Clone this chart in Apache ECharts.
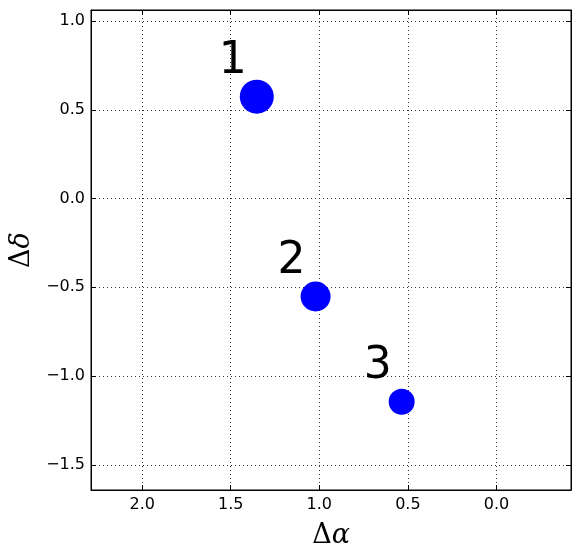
<!DOCTYPE html>
<html>
<head>
<meta charset="utf-8">
<script src="https://cdn.jsdelivr.net/npm/echarts@6/dist/echarts.min.js"></script>
<style>
html, body { margin: 0; padding: 0; background: #fff; }
#main { width: 580px; height: 558px; }
</style>
</head>
<body>
<div id="main"></div>
<script>
// point labels, offsets and marker sizes
var names = ['1', '2', '3'];
var dAlpha = [1.353, 1.021, 0.535];
var dDelta = [0.574, -0.552, -1.145];
var sizes = [34, 30, 26];

var xRange = [-0.421, 2.289];
var yRange = [-1.642, 1.062];

var points = [];
for (var i = 0; i < names.length; i++) {
	points.push({name: names[i], value: [dAlpha[i], dDelta[i]], symbolSize: sizes[i]});
}

function tickFmt(v) {
	var k = v / 0.5;
	if (Math.abs(k - Math.round(k)) > 1e-6) return '';
	return v.toFixed(1).replace('-', '\u2212');
}

var myChart = echarts.init(document.getElementById('main'));
var tickStyle = {inside: true, length: 5, lineStyle: {color: '#000', width: 1}};
var gridLine = {show: true, lineStyle: {color: '#333', width: 1, type: [1, 3]}};

option = {
	animation: false,
	backgroundColor: '#fff',
	textStyle: {fontFamily: 'DejaVu Sans'},
	grid: {
		left: 91,
		top: 10,
		width: 480,
		height: 480,
		containLabel: false,
		outerBoundsMode: 'none',
		show: true,
		borderColor: '#000',
		borderWidth: 1
	},
	xAxis: [
	{
		type: 'value',
		min: xRange[0],
		max: xRange[1],
		inverse: true,
		splitNumber: 5,
		axisLine: {show: true, onZero: false, lineStyle: {color: '#000'}},
		axisTick: tickStyle,
		axisLabel: {color: '#000', fontSize: 16, margin: 7, formatter: tickFmt},
		splitLine: gridLine,
		name: '{d|\u0394}{a|\u03b1}',
		nameLocation: 'middle',
		nameGap: 32,
		nameTextStyle: {
			rich: {
				d: {fontFamily: 'DejaVu Serif', fontSize: 27, color: '#000'},
				a: {fontFamily: 'DejaVu Serif', fontStyle: 'italic', fontSize: 27, color: '#000'}
			}
		}
	},
	{
		type: 'value',
		position: 'top',
		min: xRange[0],
		max: xRange[1],
		inverse: true,
		splitNumber: 5,
		axisLine: {show: true, onZero: false, lineStyle: {color: '#000'}},
		axisTick: tickStyle,
		axisLabel: {show: false},
		splitLine: {show: false}
	}
	],
	yAxis: [
	{
		type: 'value',
		min: yRange[0],
		max: yRange[1],
		splitNumber: 5,
		axisLine: {show: true, onZero: false, lineStyle: {color: '#000'}},
		axisTick: tickStyle,
		axisLabel: {color: '#000', fontSize: 16, margin: 6, formatter: tickFmt},
		splitLine: gridLine,
		name: '{d|\u0394}{a|\u03b4}',
		nameLocation: 'middle',
		nameGap: 54,
		nameRotate: 90,
		nameTextStyle: {
			rich: {
				d: {fontFamily: 'DejaVu Serif', fontSize: 27, color: '#000'},
				a: {fontFamily: 'DejaVu Serif', fontStyle: 'italic', fontSize: 27, color: '#000'}
			}
		}
	},
	{
		type: 'value',
		position: 'right',
		min: yRange[0],
		max: yRange[1],
		splitNumber: 5,
		axisLine: {show: true, onZero: false, lineStyle: {color: '#000'}},
		axisTick: tickStyle,
		axisLabel: {show: false},
		splitLine: {show: false}
	}
	],
	series: [
		{
			type: 'scatter',
			data: points,
			itemStyle: {color: '#0000ff', opacity: 1},
			label: {
				show: true,
				formatter: '{b}',
				position: 'inside',
				offset: [-24, -35],
				color: '#000',
				fontSize: 44,
				fontFamily: 'DejaVu Sans'
			}
		}
	]
};
myChart.setOption(option);
</script>
</body>
</html>
